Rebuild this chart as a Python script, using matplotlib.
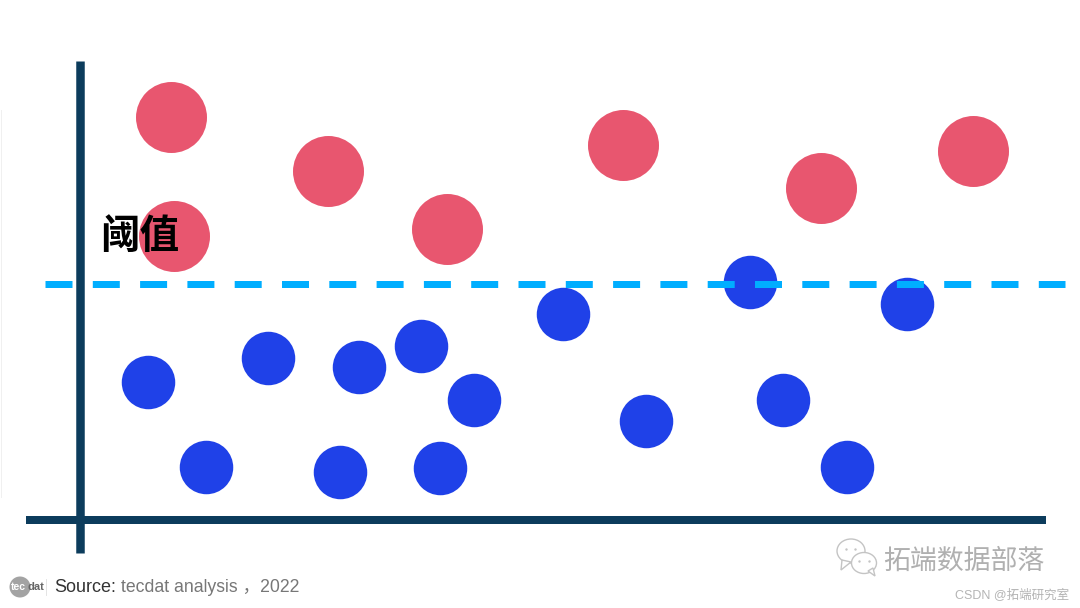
import matplotlib
matplotlib.use("Agg")
import matplotlib.pyplot as plt
from matplotlib.patches import Ellipse, Polygon

# values, in picture pixels
red_x = [170.5, 173.5, 327.5, 447, 623, 820.5, 973]
red_y = [116.5, 236, 171, 228.5, 144.5, 187.5, 151]
blue_x = [147.5, 206, 268, 340, 358.5, 421, 474, 440, 563, 646, 750, 783, 847, 907]
blue_y = [381.5, 467, 358, 472, 366.5, 345.5, 400, 468, 314, 421, 281.5, 400, 467, 304]
threshold = 283.5
threshold_label = "阈值"

navy = '#0c3c5c'
cjk = ['Noto Sans CJK SC', 'DejaVu Sans']

fig = plt.figure(figsize=(10.8, 6.08), dpi=100)
ax = fig.add_axes([0, 0, 1, 1])
ax.set_xlim(0, 1080)
ax.set_ylim(608, 0)
ax.axis('off')

# px to points
pt = 72 / 100

######### axes lines
ax.plot([80, 80], [61, 553], color=navy, lw=8.5 * pt, solid_capstyle='butt', zorder=1)
ax.plot([26, 1046], [520, 520], color=navy, lw=8 * pt, solid_capstyle='butt', zorder=1)
ax.plot([0.5, 0.5], [110, 497], color='#f0f0f0', lw=1 * pt, zorder=1)

######### points
ax.scatter(red_x, red_y, s=(71 * pt) ** 2, color='#e8566f', linewidths=0, zorder=2)
ax.scatter(blue_x, blue_y, s=(53.5 * pt) ** 2, color='#1f41e8', linewidths=0, zorder=2)

######### threshold
ax.plot([45, 1065], [threshold, threshold], color='#00aeff', lw=7 * pt,
		dashes=(27 / 7, 20.3 / 7), dash_capstyle='butt', zorder=3)
ax.text(140, 236, threshold_label, family=cjk, fontsize=28.5, color='black', weight='bold',
		ha='center', va='center', zorder=4)

######### source line
ax.add_patch(Ellipse((20, 587), 21, 21, color='#a3a3a3', lw=0))
ax.text(11, 587.5, "tec", fontsize=7.5, color='white', weight='bold', family='Liberation Sans', va='center')
ax.text(28, 587.5, "dat", fontsize=8, color='#666666', weight='bold', family='Liberation Sans', va='center')
ax.plot([46, 46], [579, 595], color='#e4e4e4', lw=0.7)
ax.text(54, 587.5, "Source:", fontsize=13, color='#333333', family='Liberation Sans', va='center')
ax.text(121, 587.5, "tecdat analysis ，2022", fontsize=12.7, color='#777777',
		family=['Liberation Sans', 'Noto Sans CJK SC'], va='center')

######### watermark
ax.add_patch(Ellipse((851, 551), 28, 24, fc='white', ec='#c4c4c4', lw=1))
ax.add_patch(Polygon([[842, 560], [841, 570], [851, 562]], fc='white', ec='#c4c4c4', lw=1))
ax.add_patch(Ellipse((864, 563), 25, 21, fc='white', ec='#c4c4c4', lw=1, zorder=3))
ax.add_patch(Polygon([[868, 571], [875, 576], [873, 568]], fc='white', ec='#c4c4c4', lw=1, zorder=3))
ax.scatter([846, 855, 859, 869], [549, 549, 561, 561], s=3, color='#c4c4c4', linewidths=0, zorder=4)
ax.text(883, 561, "拓端数据部落", family=cjk, fontsize=19.4, color='#b0b0b0', va='center')
ax.text(955, 595, "CSDN @拓端研究室", family=['Liberation Sans', 'Noto Sans CJK SC'], fontsize=9,
		color='#b4b4b4', va='center')

plt.savefig("out.png", dpi=100)
